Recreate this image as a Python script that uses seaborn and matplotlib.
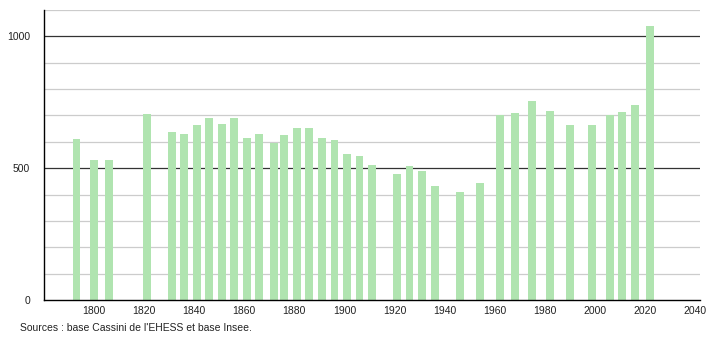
import matplotlib
matplotlib.use("Agg")
import matplotlib.pyplot as plt
import seaborn as sns
import pandas as pd

years = [1793, 1800, 1806, 1821, 1831, 1836, 1841, 1846, 1851, 1856, 1861, 1866,
         1872, 1876, 1881, 1886, 1891, 1896, 1901, 1906, 1911, 1921, 1926, 1931,
         1936, 1946, 1954, 1962, 1968, 1975, 1982, 1990, 1999, 2006, 2011, 2016, 2022]
population = [612, 531, 531, 704, 639, 631, 662, 689, 666, 689, 615, 628,
              597, 624, 654, 654, 615, 608, 555, 547, 513, 478, 509, 490,
              432, 409, 444, 702, 708, 754, 716, 662, 662, 702, 712, 739, 1041]
x_ticks = [1800, 1820, 1840, 1860, 1880, 1900, 1920, 1940, 1960, 1980, 2000, 2020, 2040]
y_ticks = [0, 500, 1000]
source_text = "Sources : base Cassini de l'EHESS et base Insee."

df = pd.DataFrame({"year": years, "pop": population})

sns.set_style("white")
plt.rcParams["font.family"] = ["Liberation Sans", "DejaVu Sans"]

fig = plt.figure(figsize=(7.1, 3.4), dpi=100)
ax = fig.add_axes([44 / 710, 1 - 300 / 340, (700 - 44) / 710, 290 / 340])

for v in range(100, 1101, 100):
    if v % 500 == 0:
        ax.axhline(v, color="#333333", lw=0.9, zorder=0)
    else:
        ax.axhline(v, color="#cccccc", lw=0.9, zorder=0)

sns.barplot(data=df, x="year", y="pop", native_scale=True, width=0.78,
            color="#b0e4b0", saturation=1, errorbar=None, ax=ax, zorder=2,
            linewidth=0, edgecolor="none")

ax.set_xlim(1780, 2042)
ax.set_ylim(0, 1100)
ax.set_xticks(x_ticks)
ax.set_xticklabels([str(t) for t in x_ticks])
ax.set_yticks(y_ticks)
ax.set_yticklabels([str(t) for t in y_ticks])
ax.set_xlabel("")
ax.set_ylabel("")
ax.tick_params(axis="x", length=0, labelsize=7.5, pad=4)
ax.tick_params(axis="y", length=4, width=0.9, labelsize=7.5, pad=6, color="black")
for lab in ax.get_yticklabels() + ax.get_xticklabels():
    lab.set_color("#222222")

for s in ["top", "right"]:
    ax.spines[s].set_visible(False)
for s in ["left", "bottom"]:
    ax.spines[s].set_color("black")
    ax.spines[s].set_linewidth(1.0)

fig.text(20 / 710, 1 - 328 / 340, source_text, fontsize=7.5, color="#222222", va="center", ha="left")

fig.savefig("out.png", dpi=100)
